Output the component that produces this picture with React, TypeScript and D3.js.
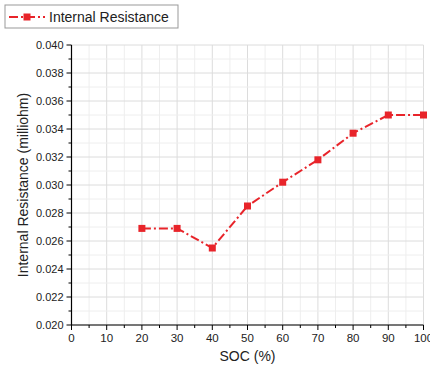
import React from "react";
import * as d3 from "d3";

const socValues = [20, 30, 40, 50, 60, 70, 80, 90, 100];
const resistanceValues = [0.0269, 0.0269, 0.0255, 0.0285, 0.0302, 0.0318, 0.0337, 0.035, 0.035];
const xTicks = [0, 10, 20, 30, 40, 50, 60, 70, 80, 90, 100];
const yTicks = [0.02, 0.022, 0.024, 0.026, 0.028, 0.03, 0.032, 0.034, 0.036, 0.038, 0.04];
const seriesName = "Internal Resistance";
const xTitle = "SOC (%)";
const yTitle = "Internal Resistance (milliohm)";

export default function App() {
  const W = 430, H = 374;
  const left = 71.5, right = 423.5, top = 45, bottom = 325;
  const x = d3.scaleLinear().domain([0, 100]).range([left, right]);
  const y = d3.scaleLinear().domain([0.02, 0.04]).range([bottom, top]);
  const xMinor = d3.range(0, 101, 5);
  const yMinor = d3.range(0, 21).map((i) => 0.02 + i * 0.001);
  const red = "#e8242a";
  const line = d3.line<number>().x((_, i) => x(socValues[i])).y((d) => y(d));
  const font = "Liberation Sans, Arial, sans-serif";
  return (
    <svg width={W} height={H} style={{ position: "absolute", left: 0, top: 0 }} fontFamily={font}>
      <rect width={W} height={H} fill="#fff" />
      {xMinor.map((v) => (
        <line key={"gx" + v} x1={x(v)} x2={x(v)} y1={top} y2={bottom}
          stroke={v % 10 === 0 ? "#dcdcdc" : "#eeeeee"} strokeWidth={1} />
      ))}
      {yMinor.map((v, i) => (
        <line key={"gy" + i} x1={left} x2={right} y1={y(v)} y2={y(v)}
          stroke={i % 2 === 0 ? "#dcdcdc" : "#eeeeee"} strokeWidth={1} />
      ))}
      <line x1={left} x2={left} y1={top} y2={bottom} stroke="#000" strokeWidth={1.2} />
      <line x1={left} x2={right} y1={bottom} y2={bottom} stroke="#000" strokeWidth={1.2} />
      {xMinor.map((v) => (
        <line key={"tx" + v} x1={x(v)} x2={x(v)} y1={bottom} y2={bottom + (v % 10 === 0 ? 5 : 3)} stroke="#000" />
      ))}
      {yMinor.map((v, i) => (
        <line key={"ty" + i} x1={left} x2={left - (i % 2 === 0 ? 5 : 3)} y1={y(v)} y2={y(v)} stroke="#000" />
      ))}
      {xTicks.map((v) => (
        <text key={"lx" + v} x={x(v)} y={bottom + 17} fontSize={11.5} textAnchor="middle" fill="#222">{v}</text>
      ))}
      {yTicks.map((v) => (
        <text key={"ly" + v} x={left - 8} y={y(v) + 4} fontSize={11} textAnchor="end" fill="#222">{v.toFixed(3)}</text>
      ))}
      <text x={(left + right) / 2} y={361} fontSize={14} textAnchor="middle" fill="#222">{xTitle}</text>
      <text transform={`translate(28,${(top + bottom) / 2}) rotate(-90)`} fontSize={14} textAnchor="middle" fill="#222">{yTitle}</text>
      <path d={line(resistanceValues) || ""} fill="none" stroke={red} strokeWidth={2} strokeDasharray="9,3,2,3" />
      {resistanceValues.map((v, i) => (
        <rect key={"m" + i} x={x(socValues[i]) - 3.5} y={y(v) - 3.5} width={7} height={7} fill={red} />
      ))}
      <rect x={5} y={5} width={173} height={23} fill="#fff" stroke="#999" strokeWidth={1} />
      <line x1={9} x2={45} y1={17} y2={17} stroke={red} strokeWidth={2} strokeDasharray="9,3,2,3" />
      <rect x={23.5} y={13.5} width={7} height={7} fill={red} />
      <text x={49} y={22} fontSize={14} fill="#222">{seriesName}</text>
    </svg>
  );
}
